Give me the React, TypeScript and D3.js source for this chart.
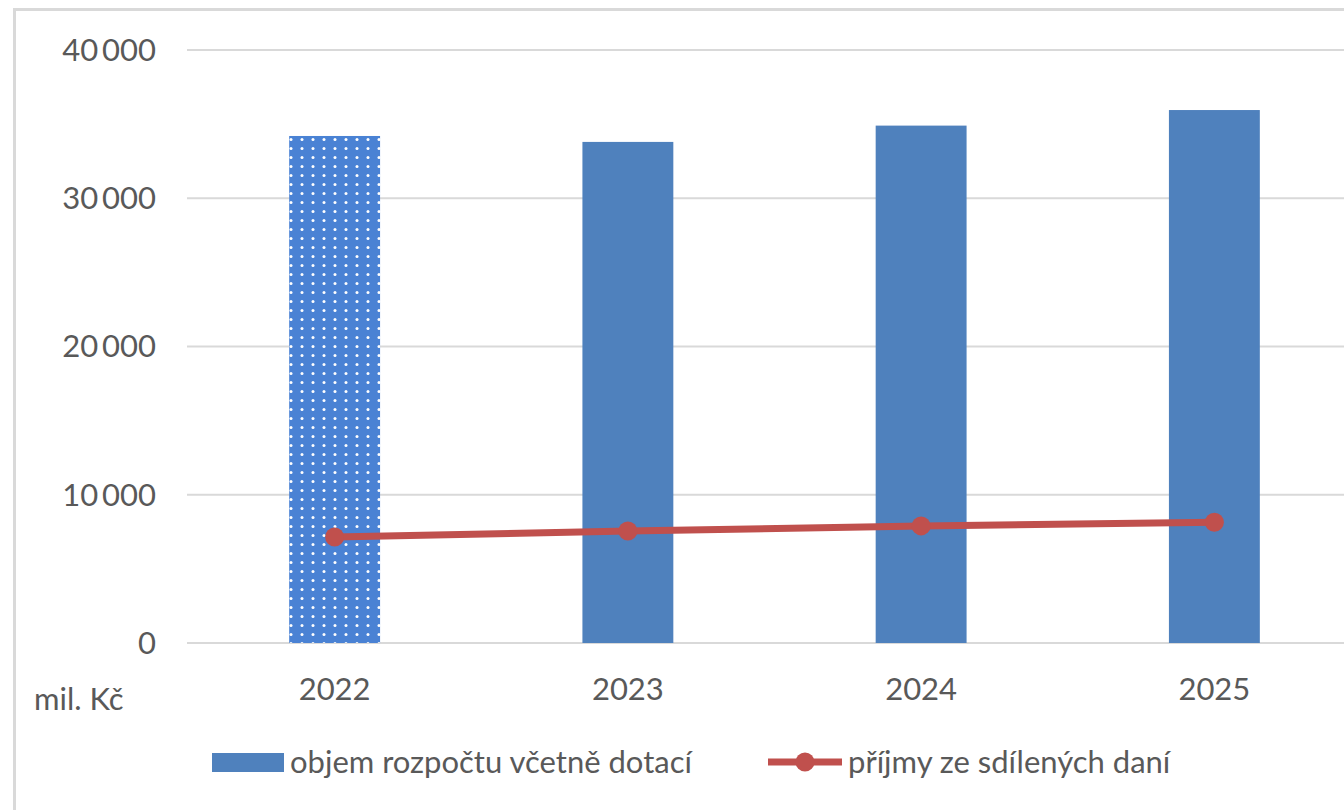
import React from "react";
import * as d3 from "d3";

const years = ["2022", "2023", "2024", "2025"];
const budget = [34200, 33800, 34900, 35950];
const sharedTax = [7150, 7550, 7900, 8150];
const yTicks = [0, 10000, 20000, 30000, 40000];
const seriesNames = ["objem rozpočtu včetně dotací", "příjmy ze sdílených daní"];
const unitLabel = "mil. Kč";

const W = 1344;
const H = 810;
const FONT = "Lato, 'Open Sans', sans-serif";
const TEXT = "#595959";
const BLUE = "#4f81bd";
const BLUE_PAT = "#4a82d4";
const RED = "#c0504d";
const FS = 31;

export default function App() {
  const x = d3.scaleBand().domain(years).range([188, 1361]).paddingInner(0.69).paddingOuter(0.345);
  const y = d3.scaleLinear().domain([0, 40000]).range([643, 50]);
  const fmt = (v: number) => (v >= 1000 ? d3.format(",")(v).replace(/,/g, "\u2009") : String(v));
  const cx = (c: string) => (x(c) as number) + x.bandwidth() / 2;
  const line = d3
    .line<number>()
    .x((_, i) => cx(years[i]))
    .y((d) => y(d));

  return (
    <svg width={W} height={H} style={{ position: "absolute", left: 0, top: 0, background: "#fff" }} fontFamily={FONT}>
      <defs>
        <pattern id="dots" width={11} height={9} patternUnits="userSpaceOnUse">
          <rect width={11} height={9} fill={BLUE_PAT} />
          <circle cx={5} cy={4.5} r={1.5} fill="#ffffff" />
        </pattern>
      </defs>
      <rect x={14.5} y={9.5} width={W + 10} height={H + 10} fill="#fff" stroke="#d9d9d9" strokeWidth={3} />
      {yTicks.map((t) => (
        <g key={t}>
          <line x1={187} x2={W} y1={y(t)} y2={y(t)} stroke="#d9d9d9" strokeWidth={2} />
          <text x={156} y={y(t)} dy="0.35em" textAnchor="end" fontSize={FS} fill={TEXT}>
            {fmt(t)}
          </text>
        </g>
      ))}
      {years.map((c, i) => (
        <rect
          key={c}
          x={x(c)}
          y={y(budget[i])}
          width={x.bandwidth()}
          height={y(0) - y(budget[i])}
          fill={i === 0 ? "url(#dots)" : BLUE}
        />
      ))}
      <path d={line(sharedTax) || ""} fill="none" stroke={RED} strokeWidth={7} />
      {sharedTax.map((v, i) => (
        <circle key={i} cx={cx(years[i])} cy={y(v)} r={9.5} fill={RED} />
      ))}
      {years.map((c) => (
        <text key={c} x={cx(c)} y={689} dy="0.35em" textAnchor="middle" fontSize={FS} fill={TEXT}>
          {c}
        </text>
      ))}
      <text x={34} y={699} dy="0.35em" fontSize={FS} fill={TEXT}>
        {unitLabel}
      </text>
      <rect x={212} y={753} width={72} height={19} fill={BLUE} />
      <text x={290} y={762} dy="0.35em" fontSize={FS} fill={TEXT}>
        {seriesNames[0]}
      </text>
      <line x1={768} x2={842} y1={762} y2={762} stroke={RED} strokeWidth={7} />
      <circle cx={805} cy={762} r={9.5} fill={RED} />
      <text x={848} y={762} dy="0.35em" fontSize={FS} fill={TEXT}>
        {seriesNames[1]}
      </text>
    </svg>
  );
}
